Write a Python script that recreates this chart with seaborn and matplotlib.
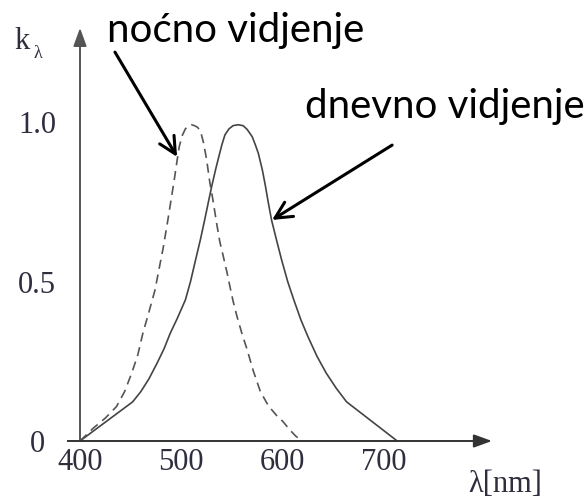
import numpy as np
import pandas as pd
import matplotlib
matplotlib.use("Agg")
import matplotlib.pyplot as plt
import seaborn as sns

# ---- data ----
lam_day = [400, 452, 460, 468, 476, 483, 489, 496, 504, 509, 514, 519, 523, 527,
           530, 534, 537, 540, 543, 547, 551, 556, 561, 565, 570, 573, 576, 580,
           583, 586, 589, 594, 599, 605, 611, 618, 625, 634, 643, 653, 663, 713]
k_day = [0, 0.123, 0.155, 0.195, 0.244, 0.29, 0.338, 0.385, 0.443, 0.50, 0.568,
         0.635, 0.694, 0.755, 0.80, 0.855, 0.893, 0.93, 0.961, 0.98, 0.99, 0.993,
         0.99, 0.978, 0.955, 0.93, 0.903, 0.85, 0.80, 0.745, 0.694, 0.63, 0.568,
         0.50, 0.443, 0.38, 0.327, 0.265, 0.213, 0.165, 0.123, 0]

lam_night = [400, 413, 425, 436, 444, 451, 457, 462, 468, 474, 478, 482, 486, 490,
             493, 496, 498, 501, 504, 507, 510, 513, 516, 519, 522, 525, 528, 531,
             535, 538, 541, 545, 548, 551, 555, 560, 565, 571, 578, 586, 594, 600,
             607, 613, 619]
k_night = [0, 0.04, 0.072, 0.108, 0.155, 0.213, 0.27, 0.338, 0.405, 0.474, 0.54,
           0.605, 0.68, 0.76, 0.82, 0.885, 0.925, 0.96, 0.98, 0.99, 0.993, 0.99,
           0.985, 0.972, 0.935, 0.882, 0.814, 0.76, 0.68, 0.625, 0.585, 0.53, 0.484,
           0.44, 0.39, 0.335, 0.286, 0.22, 0.155, 0.11, 0.08, 0.062, 0.035, 0.015, 0]

x_ticks = [400, 500, 600, 700]
x_ticklabels = ["400", "500", "600", "700"]
y_ticks = [0, 0.5, 1.0]
y_ticklabels = ["0", "0.5", "1.0"]

label_night = "noćno vidjenje"
label_day = "dnevno vidjenje"
x_label = "λ[nm]"
y_label_main = "k"
y_label_sub = "λ"

df_day = pd.DataFrame({"lam": lam_day, "k": k_day})
df_night = pd.DataFrame({"lam": lam_night, "k": k_night})

sns.set_style("white")
plt.rcParams["font.family"] = ["Liberation Serif", "DejaVu Serif"]

fig = plt.figure(figsize=(5.87, 4.98), dpi=100)
ax = fig.add_axes([0, 0, 1, 1])
ax.set_facecolor("white")

sns.lineplot(data=df_day, x="lam", y="k", ax=ax, color="#444444",
             linewidth=1.2, sort=False, estimator=None)
sns.lineplot(data=df_night, x="lam", y="k", ax=ax, color="#555555",
             linewidth=1.2, sort=False, estimator=None)
ax.lines[-1].set_dashes((5.5, 3.5))
for ln in ax.lines:
    ln.set_solid_joinstyle("round")
    ln.set_dash_joinstyle("round")

ax.set_xlim(321.05, 900.3)
ax.set_ylim(-0.179, 1.3846)
ax.set_xlabel("")
ax.set_ylabel("")

axis_col = "#555555"
for s in ["top", "right"]:
    ax.spines[s].set_visible(False)
ax.spines["left"].set_position(("data", 400))
ax.spines["bottom"].set_position(("data", 0))
ax.spines["left"].set_bounds(0, 1.27)
ax.spines["bottom"].set_bounds(388.2, 797)
ax.spines["left"].set_color(axis_col)
ax.spines["bottom"].set_color("#333333")
for s in ["left", "bottom"]:
    ax.spines[s].set_linewidth(1.4)

# axis arrowheads
ax.annotate("", xy=(400, 1.297), xytext=(400, 1.25),
            arrowprops=dict(arrowstyle="-|>,head_length=0.55,head_width=0.2",
                            color=axis_col, lw=1.4, shrinkA=0, shrinkB=0,
                            mutation_scale=20))
ax.annotate("", xy=(806.5, 0), xytext=(790, 0),
            arrowprops=dict(arrowstyle="-|>,head_length=0.55,head_width=0.2",
                            color="#333333", lw=1.4, shrinkA=0, shrinkB=0,
                            mutation_scale=20))

lab_col = "#2e2e3e"
ax.set_xticks(x_ticks)
ax.set_xticklabels(x_ticklabels)
ax.set_yticks(y_ticks)
ax.set_yticklabels(y_ticklabels)
ax.tick_params(axis="x", direction="in", length=13, width=1.2, color="#444444",
               pad=5, labelsize=22, labelcolor=lab_col)
ax.tick_params(axis="y", direction="in", length=13.5, width=1.2, color="#444444",
               pad=31, labelsize=22, labelcolor=lab_col)
plt.setp(ax.get_yticklabels(), ha="center")
ax.grid(False)

# axis labels
ax.text(782.9, -0.16, x_label, fontsize=22, color=lab_col, ha="left", va="baseline")
ax.text(334.9, 1.2307, y_label_main, fontsize=22, color=lab_col, ha="left", va="baseline")
ax.text(354.0, 1.203, y_label_sub, fontsize=13, color=lab_col, ha="left", va="baseline")

# annotations
sans = ["Lato", "DejaVu Sans"]
ax.text(426.7, 1.253, label_night, fontsize=29, family=sans, color="black",
        ha="left", va="baseline")
ax.text(622, 1.014, label_day, fontsize=29, family=sans, color="black",
        ha="left", va="baseline")
arrow_kw = dict(arrowstyle="->,head_length=0.6,head_width=0.3", color="black",
                lw=2.2, shrinkA=0, shrinkB=0, mutation_scale=20)
ax.annotate("", xy=(495.8, 0.892), xytext=(434.5, 1.221), arrowprops=arrow_kw)
ax.annotate("", xy=(589.5, 0.694), xytext=(708, 0.929), arrowprops=arrow_kw)

fig.savefig("out.png", dpi=100, facecolor="white")
